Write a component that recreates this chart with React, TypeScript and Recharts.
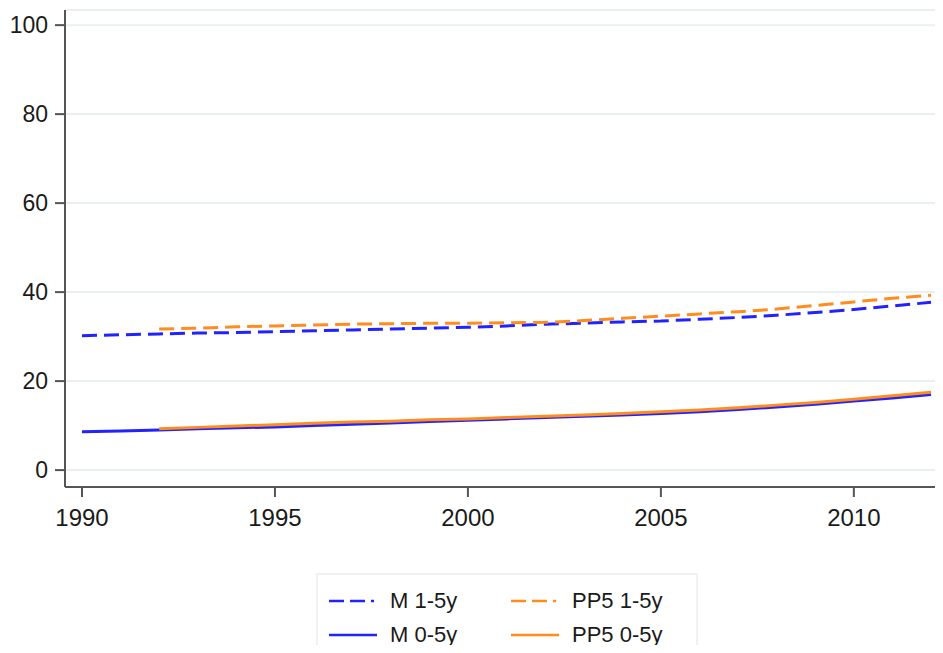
import React from "react";
import { LineChart, Line, XAxis, YAxis, CartesianGrid } from "recharts";

const YEARS = [
  1990, 1991, 1992, 1993, 1994, 1995, 1996, 1997, 1998, 1999, 2000, 2001,
  2002, 2003, 2004, 2005, 2006, 2007, 2008, 2009, 2010, 2011, 2012,
];

// M 1-5y (dashed blue)
const M_1_5 = [
  30.2, 30.4, 30.6, 30.8, 30.9, 31.1, 31.3, 31.5, 31.7, 31.9, 32.1, 32.4,
  32.8, 33.0, 33.3, 33.5, 33.9, 34.3, 34.8, 35.4, 36.1, 36.9, 37.7,
];

// PP5 1-5y (dashed orange), starts 1992
const PP5_1_5 = [
  null, null, 31.7, 31.9, 32.2, 32.4, 32.6, 32.8, 32.9, 33.0, 33.0, 33.1,
  33.2, 33.6, 34.1, 34.6, 35.1, 35.6, 36.2, 37.0, 37.8, 38.6, 39.3,
];

// M 0-5y (solid blue)
const M_0_5 = [
  8.6, 8.8, 9.0, 9.3, 9.5, 9.7, 10.0, 10.3, 10.6, 10.9, 11.2, 11.5,
  11.8, 12.1, 12.4, 12.7, 13.1, 13.6, 14.2, 14.8, 15.5, 16.2, 17.0,
];

// PP5 0-5y (solid orange), starts 1992
const PP5_0_5 = [
  null, null, 9.3, 9.6, 9.9, 10.2, 10.5, 10.8, 11.0, 11.3, 11.5, 11.8,
  12.1, 12.4, 12.7, 13.1, 13.5, 14.0, 14.6, 15.2, 15.9, 16.7, 17.5,
];

const X_TICKS = [1990, 1995, 2000, 2005, 2010];
const Y_TICKS = [0, 20, 40, 60, 80, 100];

const BLUE = "#2222ff";
const ORANGE = "#ff8c1f";
const DASH = "15 7";

const SERIES = [
  { key: "m15", name: "M 1-5y", color: BLUE, dash: DASH },
  { key: "pp15", name: "PP5 1-5y", color: ORANGE, dash: DASH },
  { key: "m05", name: "M 0-5y", color: BLUE, dash: undefined },
  { key: "pp05", name: "PP5 0-5y", color: ORANGE, dash: undefined },
];

const data = YEARS.map((year, i) => ({
  year,
  m15: M_1_5[i],
  pp15: PP5_1_5[i],
  m05: M_0_5[i],
  pp05: PP5_0_5[i],
}));

function LegendBox() {
  return (
    <div
      style={{
        position: "absolute",
        left: 316,
        top: 573,
        width: 382,
        height: 90,
        border: "2px solid #eef2f3",
        boxSizing: "border-box",
        display: "grid",
        gridTemplateColumns: "182px 190px",
        gridAutoRows: "28px",
        rowGap: 6,
        paddingTop: 12,
        paddingLeft: 10,
        fontSize: 22,
        color: "#1a1a1a",
      }}
    >
      {SERIES.map((s) => (
        <div key={s.key} style={{ display: "flex", alignItems: "center", height: 28 }}>
          <svg width={50} height={10} style={{ marginRight: 12 }}>
            <line
              x1={1}
              y1={5}
              x2={s.dash ? 46 : 49}
              y2={5}
              stroke={s.color}
              strokeWidth={2.5}
              strokeDasharray={s.dash ? "15 6" : undefined}
            />
          </svg>
          <span>{s.name}</span>
        </div>
      ))}
    </div>
  );
}

export default function App() {
  return (
    <div
      style={{
        position: "relative",
        margin: -8,
        width: 943,
        height: 653,
        overflow: "hidden",
        background: "#fff",
        fontFamily: "Arial, 'Liberation Sans', sans-serif",
      }}
    >
      <LineChart
        width={943}
        height={653}
        data={data}
        margin={{ top: 10, right: 0, bottom: 106, left: 0 }}
      >
        <CartesianGrid horizontal vertical={false} stroke="#eaf0f2" strokeWidth={2} />
        <XAxis
          dataKey="year"
          type="number"
          domain={[1989.56, 2012.31]}
          ticks={X_TICKS}
          allowDataOverflow
          height={60}
          tickSize={10}
          tickMargin={12}
          stroke="#555"
          strokeWidth={2}
          tick={{ fill: "#1a1a1a", fontSize: 24 }}
        />
        <YAxis
          type="number"
          domain={[-3.8, 103.4]}
          ticks={Y_TICKS}
          allowDataOverflow
          width={65}
          tickSize={10}
          tickMargin={7}
          stroke="#555"
          strokeWidth={2}
          tick={{ fill: "#1a1a1a", fontSize: 23 }}
        />
        {SERIES.map((s) => (
          <Line
            key={s.key}
            type="linear"
            dataKey={s.key}
            name={s.name}
            stroke={s.color}
            strokeWidth={3}
            strokeDasharray={s.dash}
            dot={false}
            connectNulls={false}
            isAnimationActive={false}
          />
        ))}
      </LineChart>
      <LegendBox />
    </div>
  );
}
